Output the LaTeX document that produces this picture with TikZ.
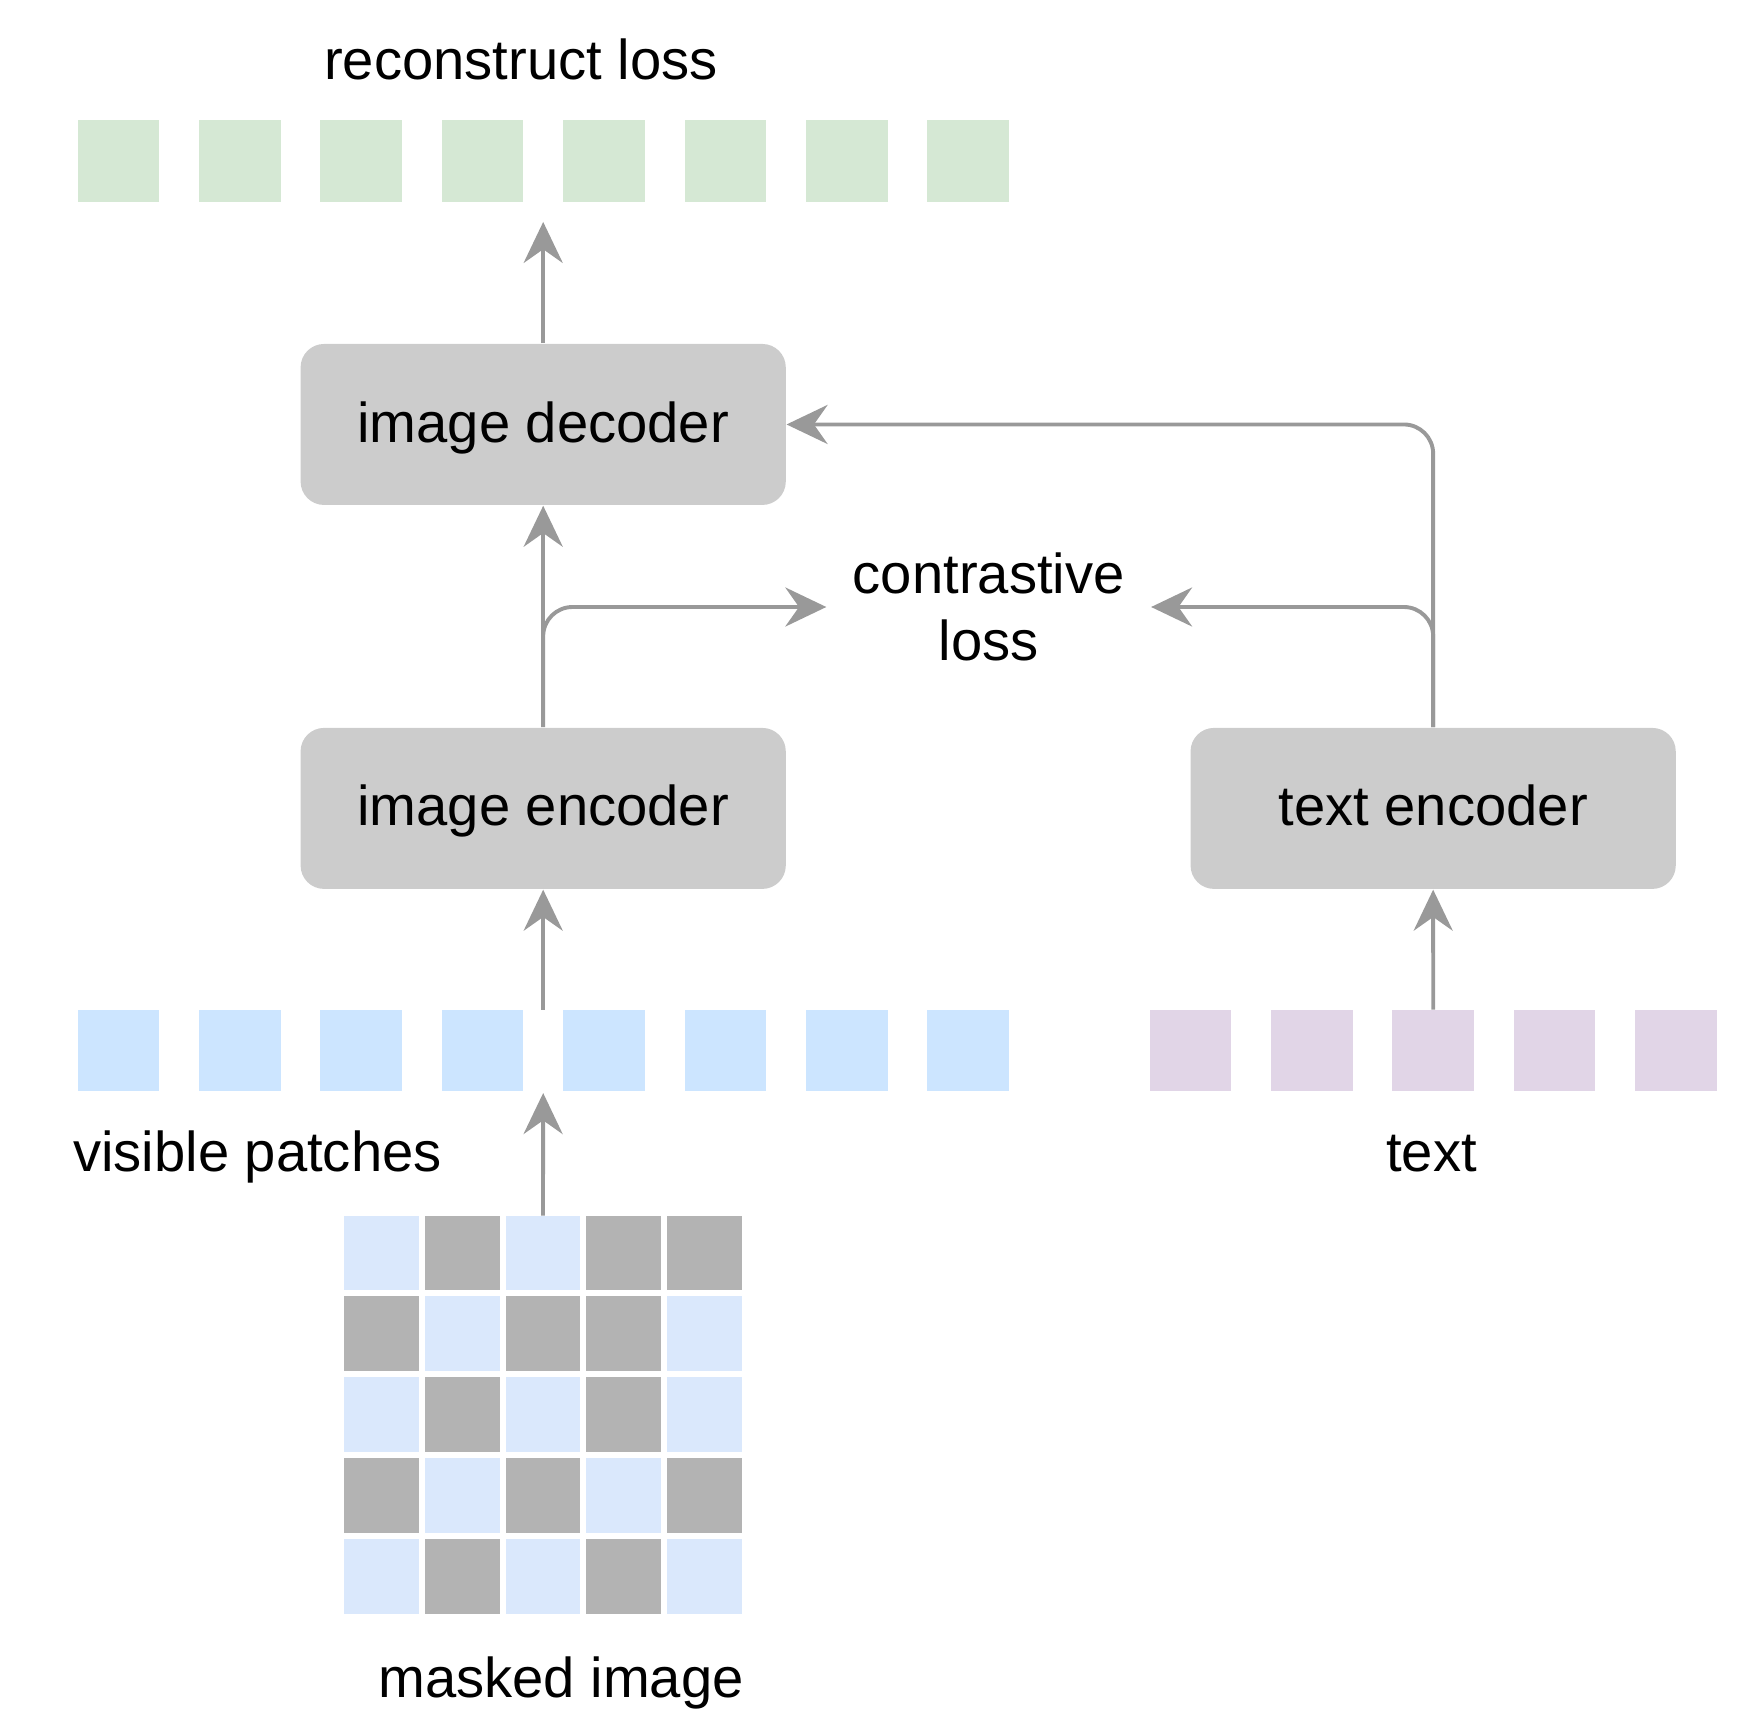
\documentclass[tikz,border=0pt]{standalone}
\usepackage{fontspec}
\setmainfont{Liberation Sans}
\usetikzlibrary{arrows.meta}

\definecolor{patchgreen}{HTML}{D5E8D4}
\definecolor{patchblue}{HTML}{CCE5FF}
\definecolor{patchpurple}{HTML}{E1D5E7}
\definecolor{maskblue}{HTML}{DAE8FC}
\definecolor{maskgray}{HTML}{B3B3B3}
\definecolor{boxgray}{HTML}{CCCCCC}
\definecolor{linegray}{HTML}{999999}

\tikzset{
  block/.style={fill=boxgray, rounded corners=6pt, minimum width=4.37cm,
    minimum height=1.45cm, inner sep=0pt, text height=0.9em, text depth=0pt},
  patch/.style={minimum size=0.735cm, inner sep=0pt, outer sep=0pt},
  cell/.style={minimum size=0.674cm, inner sep=0pt, outer sep=0pt},
  arr/.style={draw=linegray, line width=1pt,
    -{Stealth[length=10.5pt,width=10pt,inset=3.5pt]}},
  lbl/.style={inner sep=0pt, anchor=base},
}

\begin{document}
\begin{tikzpicture}[x=0.01cm, y=-0.01cm, font=\fontsize{14.4pt}{17.1pt}\selectfont]
        \useasboundingbox (0,0) rectangle (1568,1557);

        % token rows
        \foreach \i in {0,...,7} {
            \node[patch, fill=patchgreen] (r-\i) at (106.75+109.4*\i, 145) {};
            \node[patch, fill=patchblue] (b-\i) at (106.75+109.4*\i, 946.5) {};
        }
        \foreach \i in {0,...,4}
            \node[patch, fill=patchpurple] (t-\i) at (1072.75+109.4*\i, 946.5) {};

        % masked image
        \foreach \row [count=\i from 0] in {{1,0,1,0,0},{0,1,0,0,1},{1,0,1,0,1},{0,1,0,1,0},{1,0,1,0,1}} {
            \foreach \c [count=\j from 0] in \row {
                \ifnum\c=1 \def\cc{maskblue}\else\def\cc{maskgray}\fi
                \node[cell, fill=\cc] (m-\i-\j) at (343.7+72.8*\j, 1129.2+72.8*\i) {};
            }
        }

        % blocks
        \node[block] (idec) at (489.5, 382.5) {image decoder};
        \node[block] (ienc) at (489.5, 728.5) {image encoder};
        \node[block] (tenc) at (1291.5, 728.5) {text encoder};
        \node[align=center, inner xsep=0.232cm, inner ysep=0pt] (closs) at (891, 547) {contrastive\\loss};

        % labels
        \node[lbl] (lrec) at (469.5, 72) {reconstruct loss};
        \node[lbl] (lvis) at (232, 1056) {visible patches};
        \node[lbl] (ltxt) at (1290, 1056) {text};
        \node[lbl] (lmask) at (505.5, 1530) {masked image};

        \coordinate (rtip) at (489.5, 200);
        \coordinate (vtop) at (489.5, 910);
        \coordinate (vtip) at (489.5, 985);

        % connectors
        \draw[arr] (idec.north) -- (rtip);
        \draw[arr] (ienc.north) -- (idec.south);
        \draw[arr, rounded corners=7.5pt] (ienc.north) |- (closs.west);
        \draw[arr, rounded corners=7.5pt] (tenc.north) |- (closs.east);
        \draw[arr, rounded corners=7.5pt] (tenc.north) |- (idec.east);
        \draw[arr] (vtop) -- (ienc.south);
        \draw[arr] (t-2.north) -- (tenc.south);
        \draw[arr] (m-0-2.north) -- (vtip);

    \end{tikzpicture}
\end{document}
